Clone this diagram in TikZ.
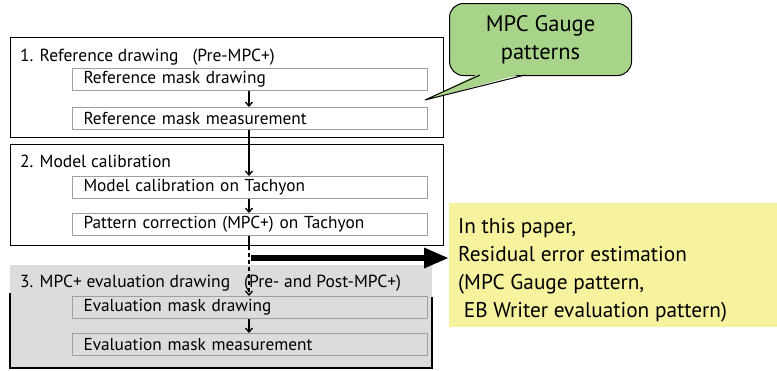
\documentclass[tikz,border=0pt]{standalone}
\usepackage{fontspec}
\setmainfont{PT Sans}
\usepackage{xcolor}
\usetikzlibrary{arrows.meta,positioning}

\definecolor{calloutgreen}{RGB}{168,212,138}
\definecolor{noteyellow}{RGB}{246,242,158}
\definecolor{stagegray}{RGB}{220,220,220}

\begin{document}
\begin{tikzpicture}[
  x=1pt, y=-1pt,
  stage/.style={draw, line width=1.3pt, anchor=north west, minimum width=433pt, inner sep=0pt},
  stagetitle/.style={anchor=base west, inner sep=0pt, font=\fontsize{17.5}{20}\selectfont},
  stepbox/.style={draw=gray!75, line width=1pt, fill=white, anchor=north west, minimum width=355pt,
    minimum height=22pt, text width=333pt, align=left, inner sep=0pt, font=\fontsize{17.3}{20}\selectfont},
  arrow/.style={-{Straight Barb[length=4pt,width=7pt]}, line width=1.3pt},
  bigarrow/.style={-{Triangle[length=25pt,width=19pt]}, line width=6pt}
]
\useasboundingbox (0,0) rectangle (777,370);

% stage frames
\node[stage, minimum height=100pt] (refstage) at (10,37) {};
\node[stage, minimum height=101pt] (calstage) at (10,144) {};
\fill[stagegray] (10,265) rectangle (432,368);
\draw[line width=1.3pt] (10,293) |- (432,368) -- (432,297);
\coordinate (evalstage) at (249,368);

\node[stagetitle] (reftitle) at (20,61) {1. Reference drawing \ \ (Pre-MPC+)};
\node[stagetitle] (caltitle) at (20,167) {2. Model calibration};
\node[stagetitle] (evaltitle) at (20,287) {3. MPC+ evaluation drawing \ \ (Pre- and Post-MPC+)};

% steps
\node[stepbox] (refdraw) at (72,68) {Reference mask drawing};
\node[stepbox] (refmeas) at (72,107) {Reference mask measurement};
\node[stepbox] (caldo) at (72,176) {Model calibration on Tachyon};
\node[stepbox] (mpcdo) at (72,213) {Pattern correction (MPC+) on Tachyon};
\node[stepbox, fill=stagegray] (evaldraw) at (72,296) {Evaluation mask drawing};
\node[stepbox, fill=stagegray] (evalmeas) at (72,333) {Evaluation mask measurement};

\draw[arrow] (refdraw.south -| 249,0) -- (refmeas.north -| 249,0);
\draw[arrow] (refmeas.south -| 249,0) -- (caldo.north -| 249,0);
\draw[arrow] (caldo.south -| 249,0) -- (mpcdo.north -| 249,0);
\draw[line width=1.3pt] (mpcdo.south -| 249,0) -- (calstage.south -| 249,0);
\draw[arrow, dash pattern=on 4pt off 3pt] (calstage.south -| 249,0) -- (evaldraw.north -| 249,0);
\draw[arrow] (evaldraw.south -| 249,0) -- (evalmeas.north -| 249,0);

% note on the right
\node[fill=noteyellow, anchor=north west, minimum width=328pt, minimum height=124pt, inner sep=0pt] (note) at (449,203) {};
\node[anchor=west, inner sep=0pt, align=left, font=\fontsize{21.3}{28}\selectfont] (notetext)
  at ([xshift=9pt, yshift=-5pt]note.west)
  {In this paper,\\Residual error estimation\\(MPC Gauge pattern,\\\ EB Writer evaluation pattern)};
\coordinate (split) at (251,258);
\draw[bigarrow] (split) -- (split -| note.west);

% callout
\node[draw, line width=1pt, fill=calloutgreen, rounded corners=14pt, anchor=north west, minimum width=182pt,
  minimum height=72pt, align=center, font=\fontsize{22.5}{28}\selectfont] (gauge) at (449,3)
  {MPC Gauge\\patterns};
\coordinate (gaugetip) at (425,100);
\fill[calloutgreen] (480,73) -- (gaugetip) -- (525,73) -- cycle;
\draw[line width=1pt, line join=miter] (480,75) -- (gaugetip) -- (525,75);
\end{tikzpicture}
\end{document}
